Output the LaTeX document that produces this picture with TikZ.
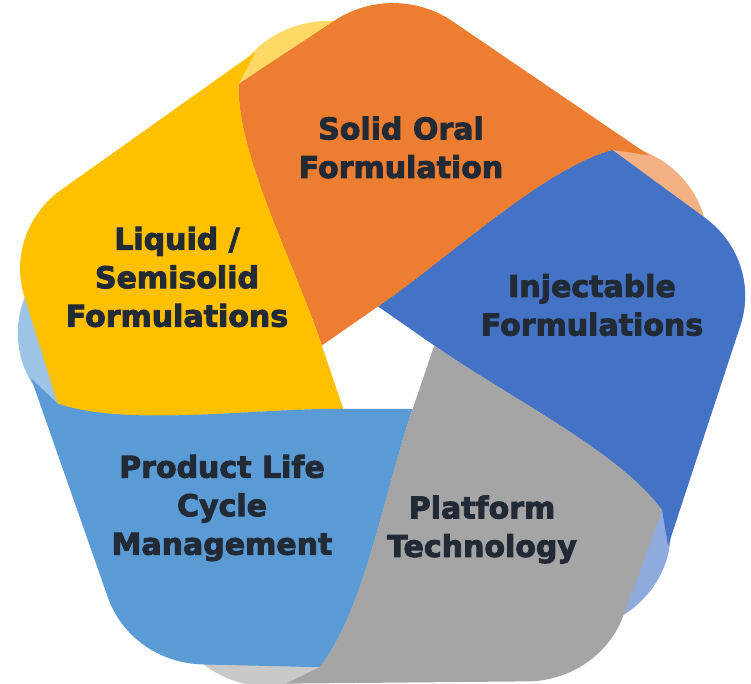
\documentclass[tikz,border=0pt]{standalone}
\usepackage{fontspec}
\newfontfamily\labelfont{DejaVu Sans}[BoldFeatures={FakeBold=3}]
\definecolor{oral}{RGB}{237,125,49}
\definecolor{oraltab}{RGB}{244,177,131}
\definecolor{inject}{RGB}{68,114,196}
\definecolor{injecttab}{RGB}{143,170,220}
\definecolor{platform}{RGB}{165,165,165}
\definecolor{platformtab}{RGB}{201,201,201}
\definecolor{lifecycle}{RGB}{91,155,213}
\definecolor{lifecycletab}{RGB}{157,195,230}
\definecolor{liquid}{RGB}{255,192,0}
\definecolor{liquidtab}{RGB}{255,217,102}
\definecolor{labeltext}{RGB}{34,42,53}
% one band, drawn for the right hand corner; the others are turned copies
\newcommand{\band}{(0,56) .. controls (69,106) and (156,192) .. (222,211)
  -- (309.6,144) arc[start angle=52.8,end angle=-18.2,radius=97.3]
  -- (275,-181) -- (269.3,-145.9)
  .. controls (230.8,-89.1) and (122.4,-33.5) .. (53.3,17.3) -- cycle}
\tikzset{lbl/.style={align=center,text=labeltext,
  font=\labelfont\bfseries\fontsize{30}{38.5}\selectfont}}

\begin{document}
\begin{tikzpicture}[x=1pt,y=1pt]
\useasboundingbox (0,0) rectangle (751,684);
\begin{scope}[shift={(378,321)},xscale=1.055,yscale=1.01]
  \foreach \ang/\tab in {0/injecttab,72/oraltab,144/liquidtab,216/lifecycletab,288/platformtab}
    \fill[\tab,rotate=\ang] (179.5,-167.1) circle[radius=98];
  \foreach \ang/\col in {0/inject,72/oral,144/liquid,216/lifecycle,288/platform}
    \fill[\col,rotate=\ang] \band;
\end{scope}
\node[lbl] (oral) at (401,536.5) {Solid Oral\\Formulation};
\node[lbl] (liquid) at (177,407) {Liquid /\\Semisolid\\Formulations};
\node[lbl] (inject) at (592,379) {Injectable\\Formulations};
\node[lbl] (lifecycle) at (222,176) {Product Life\\Cycle\\Management};
\node[lbl] (platform) at (482,154.5) {Platform\\Technology};
\end{tikzpicture}
\end{document}
